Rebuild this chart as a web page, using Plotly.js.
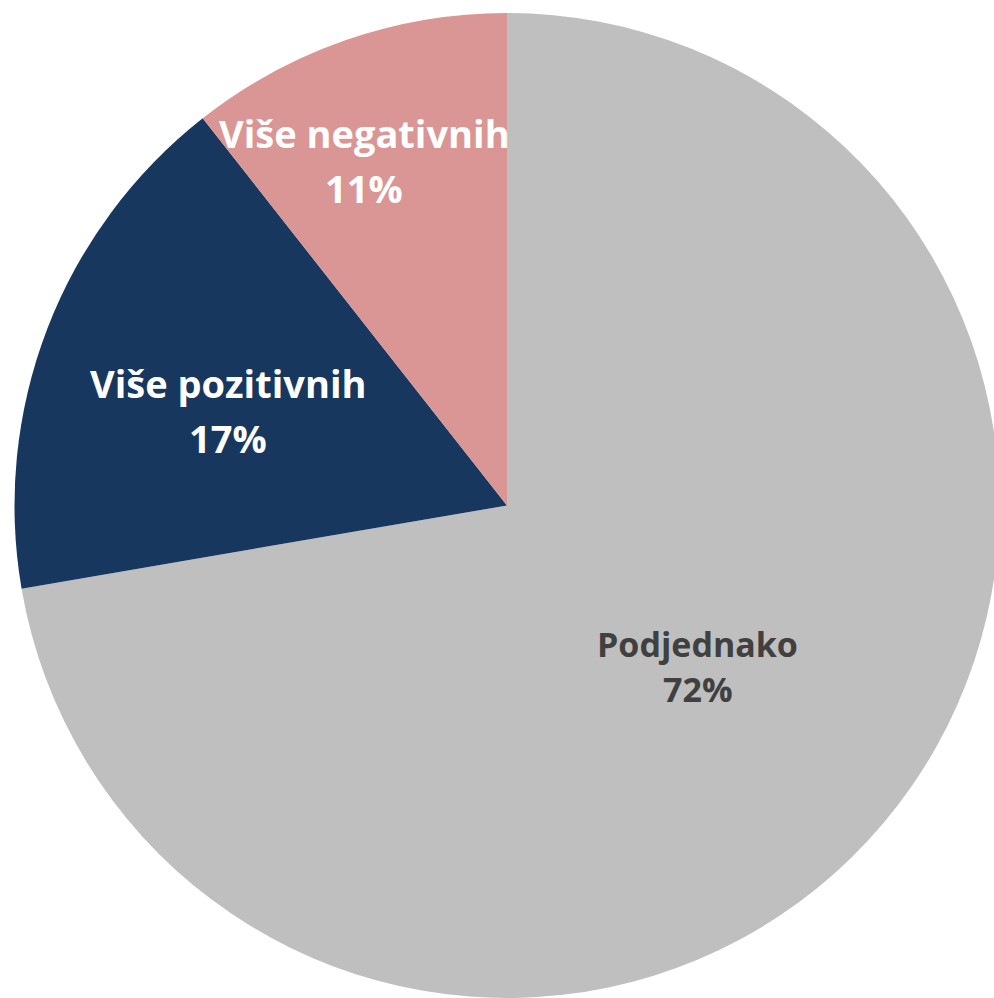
<!DOCTYPE html>
<html><head><meta charset="utf-8">
<script src="https://cdn.plot.ly/plotly-3.0.1.min.js"></script>
<style>html,body{margin:0;padding:0;overflow:hidden;background:#fff}</style>
</head><body><div id="chart"></div>
<script>
const categories = ["Podjednako", "Više pozitivnih", "Više negativnih"];
const values = [72.3, 17.1, 10.6];
const colors = ["#BFBFBF", "#17375E", "#D99694"];
const textColors = ["#404040", "#FFFFFF", "#FFFFFF"];
const labelSizes = [34, 38, 38];
// label placement (fraction of radius, angle tweak in degrees, line gap px)
const labelRadius = [0.507, 0.598, 0.758];
const labelAngleTweak = [0, -2.2, -3.4];
const labelLineGap = [45, 55, 55];

const W = 1000, H = 998;
const M = {l: 14, r: 0, t: 13, b: 0};
const pw = W - M.l - M.r, ph = H - M.t - M.b;
const R = Math.min(pw, ph) / 2;
const total = values.reduce((a, b) => a + b, 0);

const annotations = [];
let cum = 0;
values.forEach((v, i) => {
  const mid = (cum + v / 2) / total * 360 + labelAngleTweak[i];
  cum += v;
  const th = mid * Math.PI / 180;
  const r = labelRadius[i] * R;
  const x = 0.5 + r * Math.sin(th) / pw;
  const y = 0.5 + r * Math.cos(th) / ph;
  const pct = Math.round(v / total * 100) + "%";
  const font = {family: "Open Sans", size: labelSizes[i], color: textColors[i], weight: "bold"};
  annotations.push({xref: "paper", yref: "paper", x: x, y: y, text: "<b>" + categories[i] + "</b>",
    showarrow: false, xanchor: "center", yanchor: "middle", yshift: labelLineGap[i] / 2, font: font});
  annotations.push({xref: "paper", yref: "paper", x: x, y: y, text: "<b>" + pct + "</b>",
    showarrow: false, xanchor: "center", yanchor: "middle", yshift: -labelLineGap[i] / 2, font: font});
});

Plotly.newPlot("chart", [{
  type: "pie",
  labels: categories,
  values: values,
  sort: false,
  direction: "clockwise",
  rotation: 0,
  marker: {colors: colors, line: {width: 0}},
  textinfo: "none",
  hoverinfo: "none"
}], {
  width: W, height: H,
  margin: M,
  showlegend: false,
  paper_bgcolor: "#fff",
  annotations: annotations
}, {staticPlot: true});
</script></body></html>
